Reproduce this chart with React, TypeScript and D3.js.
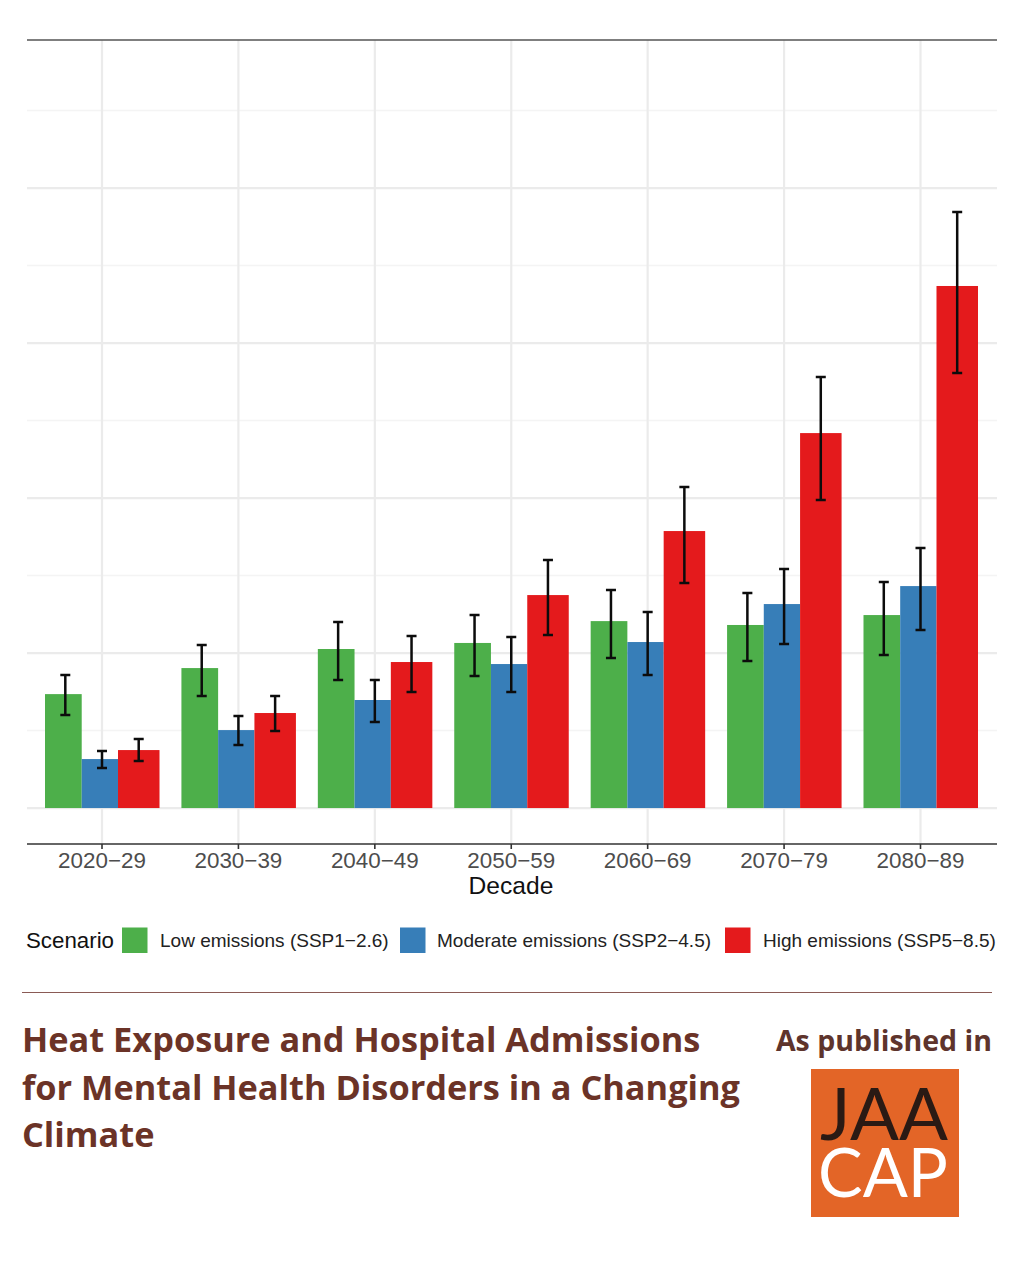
import { useRef, useEffect } from "react";
import * as d3 from "d3";

const decades = ["2020−29", "2030−39", "2040−49", "2050−59", "2060−69", "2070−79", "2080−89"];
const scenarios = ["Low emissions (SSP1−2.6)", "Moderate emissions (SSP2−4.5)", "High emissions (SSP5−8.5)"];
const colors = ["#4daf4a", "#377eb8", "#e41a1c"];

// y units are unlabelled in the picture, one unit = one major gridline
const lowValues = [0.735, 0.903, 1.026, 1.065, 1.206, 1.181, 1.245];
const lowMin = [0.6, 0.723, 0.826, 0.852, 0.968, 0.948, 0.987];
const lowMax = [0.858, 1.052, 1.2, 1.245, 1.406, 1.387, 1.458];

const moderateValues = [0.316, 0.503, 0.697, 0.929, 1.071, 1.316, 1.432];
const moderateMin = [0.258, 0.406, 0.555, 0.748, 0.858, 1.058, 1.148];
const moderateMax = [0.368, 0.594, 0.826, 1.103, 1.265, 1.542, 1.677];

const highValues = [0.374, 0.613, 0.942, 1.374, 1.787, 2.419, 3.368];
const highMin = [0.303, 0.497, 0.748, 1.116, 1.452, 1.987, 2.806];
const highMax = [0.445, 0.723, 1.11, 1.6, 2.071, 2.781, 3.845];

const majorTicks = [0, 1, 2, 3, 4];
const minorTicks = [0.5, 1.5, 2.5, 3.5, 4.5];

const series = [
    { values: lowValues, min: lowMin, max: lowMax },
    { values: moderateValues, min: moderateMin, max: moderateMax },
    { values: highValues, min: highMin, max: highMax },
];

const titleLines = ["Heat Exposure and Hospital Admissions", "for Mental Health Disorders in a Changing", "Climate"];

export default function App() {
    const svgRef = useRef<SVGSVGElement>(null);

    useEffect(() => {
        const svg = d3.select(svgRef.current);
        svg.selectAll("*").remove();

        const left = 27, right = 997, top = 40, bottom = 844;
        const sans = "'Liberation Sans', Arial, sans-serif";

        const x = d3.scaleBand<string>().domain(decades).range([33.8, 988.7]);
        const y = d3.scaleLinear().domain([-0.232, 4.955]).range([bottom, top]);
        const center = (d: string) => (x(d) as number) + x.bandwidth() / 2;

        // the red bars are a little wider than the others in the original
        const barEdges = [-57, -20.3, 16, 57.5];
        const errorOffset = [-36.7, 0, 36.7];
        const capHalf = 5;

        // grid
        const grid = svg.append("g");
        grid.selectAll("line.minor").data(minorTicks).join("line")
            .attr("x1", left).attr("x2", right)
            .attr("y1", d => y(d)).attr("y2", d => y(d))
            .attr("stroke", "#f4f4f4").attr("stroke-width", 1.5);
        grid.selectAll("line.major").data(majorTicks).join("line")
            .attr("x1", left).attr("x2", right)
            .attr("y1", d => y(d)).attr("y2", d => y(d))
            .attr("stroke", "#ebebeb").attr("stroke-width", 2.2);
        grid.selectAll("line.vert").data(decades).join("line")
            .attr("x1", d => center(d)).attr("x2", d => center(d))
            .attr("y1", top).attr("y2", bottom)
            .attr("stroke", "#ebebeb").attr("stroke-width", 2.2);

        // bars
        series.forEach((s, i) => {
            svg.append("g").selectAll("rect").data(decades).join("rect")
                .attr("x", d => center(d) + barEdges[i])
                .attr("width", barEdges[i + 1] - barEdges[i])
                .attr("y", (_, j) => y(s.values[j]))
                .attr("height", (_, j) => y(0) - y(s.values[j]))
                .attr("fill", colors[i]);
        });

        // error bars
        series.forEach((s, i) => {
            const g = svg.append("g").attr("stroke", "#0c0c0c").attr("stroke-width", 2.5).attr("fill", "none");
            g.selectAll("path").data(decades).join("path")
                .attr("d", (d, j) => {
                    const cx = center(d) + errorOffset[i];
                    const p = d3.path();
                    p.moveTo(cx - capHalf, y(s.max[j])); p.lineTo(cx + capHalf, y(s.max[j]));
                    p.moveTo(cx, y(s.max[j])); p.lineTo(cx, y(s.min[j]));
                    p.moveTo(cx - capHalf, y(s.min[j])); p.lineTo(cx + capHalf, y(s.min[j]));
                    return p.toString();
                });
        });

        // panel lines top and bottom
        svg.append("line").attr("x1", left).attr("x2", right).attr("y1", top).attr("y2", top)
            .attr("stroke", "#555").attr("stroke-width", 1.3);
        svg.append("line").attr("x1", left).attr("x2", right).attr("y1", bottom).attr("y2", bottom)
            .attr("stroke", "#333").attr("stroke-width", 1.3);

        // x axis
        svg.selectAll("line.tick").data(decades).join("line")
            .attr("x1", d => center(d)).attr("x2", d => center(d))
            .attr("y1", bottom).attr("y2", bottom + 5)
            .attr("stroke", "#333").attr("stroke-width", 1.6);
        svg.selectAll("text.tick").data(decades).join("text")
            .attr("x", d => center(d)).attr("y", 868)
            .attr("text-anchor", "middle")
            .attr("font-family", sans).attr("font-size", 22.4).attr("fill", "#4d4d4d")
            .text(d => d);
        svg.append("text").attr("x", 511).attr("y", 894).attr("text-anchor", "middle")
            .attr("font-family", sans).attr("font-size", 24.6).attr("fill", "#111").text("Decade");

        // legend
        svg.append("text").attr("x", 26).attr("y", 948)
            .attr("font-family", sans).attr("font-size", 22.3).attr("fill", "#111").text("Scenario");
        const swatchX = [122, 400, 725];
        const labelX = [160, 437, 763];
        scenarios.forEach((s, i) => {
            svg.append("rect").attr("x", swatchX[i]).attr("y", 927.5)
                .attr("width", 25.5).attr("height", 25.5).attr("fill", colors[i]);
            svg.append("text").attr("x", labelX[i]).attr("y", 947)
                .attr("font-family", sans).attr("font-size", 19).attr("fill", "#222").text(s);
        });

        // divider
        svg.append("line").attr("x1", 22).attr("x2", 992).attr("y1", 992.5).attr("y2", 992.5)
            .attr("stroke", "#8a5a55").attr("stroke-width", 1.2);

        // title
        const open = "'Open Sans', sans-serif";
        const titleBase = [1052, 1099.5, 1147];
        titleLines.forEach((t, i) => {
            svg.append("text").attr("x", 22).attr("y", titleBase[i])
                .attr("font-family", open).attr("font-weight", 700).attr("font-size", 34.35)
                .attr("fill", "#6b3327").text(t);
        });
        svg.append("text").attr("x", 992).attr("y", 1051).attr("text-anchor", "end")
            .attr("font-family", open).attr("font-weight", 700).attr("font-size", 28.5)
            .attr("fill", "#5e342c").text("As published in");

        // journal logo
        svg.append("rect").attr("x", 811).attr("y", 1069).attr("width", 148).attr("height", 148).attr("fill", "#e36527");
        const logo = "Lato, sans-serif";
        svg.append("text").attr("x", 820).attr("y", 1140)
            .attr("font-family", logo).attr("font-weight", 400).attr("font-size", 72)
            .attr("textLength", 128).attr("lengthAdjust", "spacingAndGlyphs")
            .attr("fill", "#2a1a14").text("JAA");
        svg.append("text").attr("x", 818).attr("y", 1197)
            .attr("font-family", logo).attr("font-weight", 400).attr("font-size", 68)
            .attr("textLength", 130).attr("lengthAdjust", "spacingAndGlyphs")
            .attr("fill", "#ffffff").text("CAP");
    }, []);

    return (
        <svg
            ref={svgRef}
            width={1024}
            height={1280}
            style={{ position: "absolute", left: 0, top: 0, background: "#fff" }}
        ></svg>
    );
}
